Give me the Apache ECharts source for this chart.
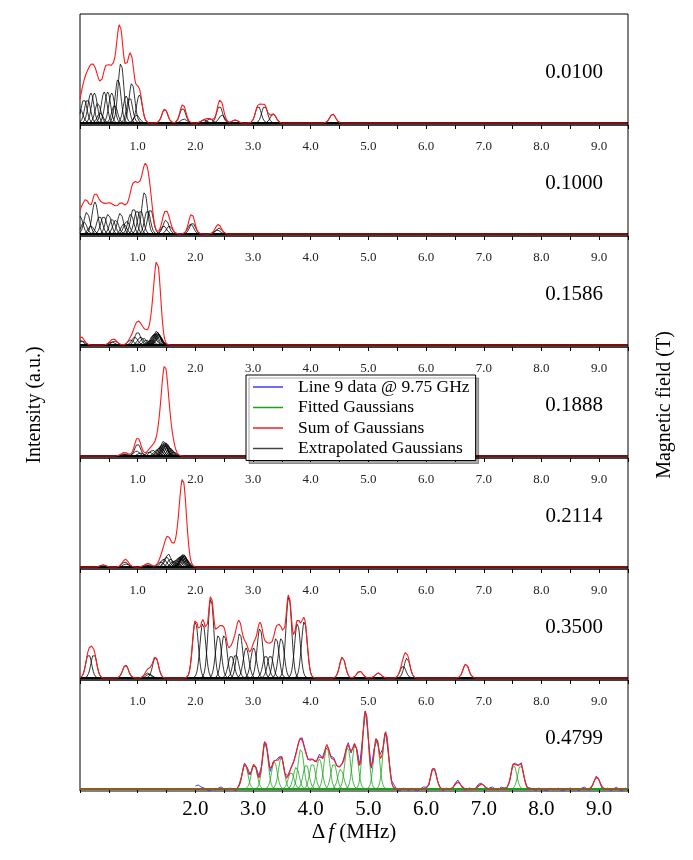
<!DOCTYPE html>
<html><head><meta charset="utf-8">
<script src="https://cdn.jsdelivr.net/npm/echarts@6/dist/echarts.min.js"></script>
<style>html,body{margin:0;padding:0;background:#fff}#c{width:693px;height:860px}</style>
</head><body><div id="c"></div><script>
// ---------- data ----------
const fieldLabels = ['0.0100','0.1000','0.1586','0.1888','0.2114','0.3500','0.4799'];
const topTickLabels = [1,2,3,4,5,6,7,8,9];
const bottomTickLabels = [2,3,4,5,6,7,8,9];
const legendNames = ['Line 9 data @ 9.75 GHz','Fitted Gaussians','Sum of Gaussians','Extrapolated Gaussians'];
// Gaussian widths (sigma, MHz) per panel
const widths = [0.05,0.05,0.05,0.05,0.05,0.05,0.05];
// [centre MHz, height] of each Gaussian, per panel
const peaks0100 = [[0.00,14],[0.07,24],[0.13,24],[0.19,30],[0.25,30],[0.31,20],[0.35,10],[0.42,31],[0.48,31],[0.55,30],[0.60,18],[0.66,44],[0.71,60],[0.80,27],[0.86,26],[0.90,40],[0.98,8],[1.03,28],
  [1.47,14],[1.78,15],[1.80,4],[2.15,3],[2.25,4],[2.42,17],[2.46,8],[2.69,3],[3.09,17],[3.20,17],[3.35,9],[4.38,9]];
const peaks1000 = [[0.00,18],[0.07,12],[0.12,22],[0.19,8],[0.26,32],[0.34,18],[0.41,18],[0.49,20],[0.56,15],[0.62,14],[0.70,21],[0.76,10],[0.81,13],[0.88,20],[0.93,26],[0.99,24],[1.05,24],[1.12,42],[1.17,24],[1.22,25],
  [1.45,8],[1.49,14],[1.55,8],[1.92,10],[1.95,11],[2.38,4],[2.41,6]];
const peaks1586 = [[0.00,5],[0.04,4],[0.55,3],[0.60,4],[0.88,5],[0.95,8],[1.00,13],[1.05,8],[1.10,7],[1.15,5],[1.20,4],[1.24,5],[1.27,10],[1.29,11],[1.31,12],[1.33,14],[1.34,13],[1.35,12],[1.36,11],[1.37,10],[1.38,9]];
const peaks1888 = [[0.75,2],[0.80,2],[0.98,5],[1.00,12],[1.05,3],[1.20,4],[1.26,6],[1.33,6],[1.37,8],[1.40,10],[1.43,12],[1.45,15],[1.46,12],[1.47,14],[1.48,10],[1.49,13],[1.51,12],[1.53,10],[1.56,8],[1.59,6],[1.62,4]];
const peaks2114 = [[0.40,2],[0.78,5],[0.80,3],[1.15,2],[1.20,2],[1.40,5],[1.45,8],[1.50,10],[1.53,13],[1.57,8],[1.62,6],[1.66,7],[1.70,9],[1.73,10],[1.75,11],[1.76,8],[1.77,12],[1.78,10],[1.79,13],[1.80,12],[1.81,11],[1.83,9],[1.85,7]];
const peaks3500 = [[0.15,24],[0.24,24],[0.79,13],[1.17,5],[1.20,4],[1.31,21],[2.00,57],[2.13,55],[2.27,80],[2.40,43],[2.50,43],[2.62,23],[2.70,24],[2.77,45],[2.88,30],[3.01,30],[3.12,50],[3.22,23],[3.30,23],[3.40,40],[3.49,40],[3.62,82],[3.77,55],[3.89,57],
  [4.55,21],[4.85,7],[5.17,5],[5.60,12],[5.67,20],[6.69,14]];
const peaks4799 = [[2.86,25],[3.02,25],[3.21,48],[3.37,27],[3.49,31],[3.66,17],[3.75,22],[3.83,40],[3.92,25],[4.03,26],[4.15,30],[4.28,42],[4.40,26],[4.52,20],[4.64,42],[4.77,44],[4.95,79],[5.14,51],[5.30,57],
  [6.13,21],[6.55,7],[6.96,5],[7.52,24],[7.64,24],[8.96,12]];
// measured line-9 data: deviation from the fit, sampled every 0.05 MHz from 2.00 to 9.50
const dataStart = 2.0, dataStep = 0.05;
const dataResidual = [
 3,4,2,1,-1,-2,0,-1,1,2,
 0,-1,1,0,-2,1,0,1,2,0,
 -1,1,2,-1,0,1,-2,1,0,2,
 1,-1,2,0,-1,1,0,2,1,-1,
 1,0,-1,2,1,0,-1,1,2,0,
 -1,1,0,2,-1,0,2,1,3,-1,
 1,0,3,-2,2,1,0,-2,1,3,
 -1,-2,1,0,-2,1,-1,-2,0,2,
 1,-2,2,1,0,-1,-2,1,0,-1,
 1,2,0,-2,-1,1,0,-1,2,1,
 0,-2,1,2,0,-1,2,1,0,-1,
 2,1,-1,2,0,-1,1,0,-2,1,
 0,-1,-2,1,-1,0,1,-2,-1,0,
 1,-1,0,-2,1,2,-1,-2,0,1,
 0,-2,-1,1,-2,0,2,-1,-2,1,
 0];
const panels = [peaks0100,peaks1000,peaks1586,peaks1888,peaks2114,peaks3500,peaks4799];

// ---------- layout ----------
const X0 = 80, W = 548, H = 111;
const tops = [14,125,236,347,458,569,680];
const FONT = 'Liberation Serif';
const BLUE = '#3b3bff', GREEN = '#1aa31a', RED = '#ff1a1a', BLACK = '#000';

const xs = [];
for (let k = 0; k <= 950; k++) xs.push(k / 100);
function g(x, c, h, s) { return h * Math.exp(-(x - c) * (x - c) / (2 * s * s)); }
function gsum(pk, s, x) { let y = 0; for (const [c, h] of pk) y += g(x, c, h, s); return y; }
const isInt = v => Math.abs(v - Math.round(v)) < 1e-6;

const grid = [], xAxis = [], yAxis = [], series = [];
tops.forEach((t, i) => {
  grid.push({left: X0, top: t, width: W, height: H, show: true, borderColor: '#000', borderWidth: 1, backgroundColor: 'transparent'});
  yAxis.push({type: 'value', gridIndex: i, min: -2, max: 109, show: false});
  const bIdx = xAxis.length;
  xAxis.push({type: 'value', gridIndex: i, min: 0, max: 9.5, interval: 0.5, position: 'bottom',
    axisLine: {show: false}, splitLine: {show: false},
    axisTick: {show: i === 6, inside: false, length: 4, lineStyle: {color: '#000'}},
    axisLabel: {show: i === 6, margin: 8, fontFamily: FONT, fontSize: 21, color: '#000',
      formatter: v => (isInt(v) && bottomTickLabels.includes(Math.round(v))) ? v.toFixed(1) : ''}});
  if (i > 0) {
    xAxis.push({type: 'value', gridIndex: i, min: 0, max: 9.5, interval: 0.5, position: 'top',
      axisLine: {show: false}, splitLine: {show: false},
      axisTick: {show: true, inside: true, length: 4, lineStyle: {color: '#000'}},
      axisLabel: {show: true, inside: true, margin: 15, fontFamily: FONT, fontSize: 13, color: '#222',
        formatter: v => (isInt(v) && topTickLabels.includes(Math.round(v))) ? v.toFixed(1) : ''}});
  }
  const pk = panels[i], s = widths[i];
  const comp = (i === 6) ? legendNames[1] : legendNames[3];
  const compColor = (i === 6) ? GREEN : BLACK;
  if (i === 6) {
    const d = dataResidual.map((r, k) => { const x = dataStart + k * dataStep; return [x, gsum(pk, s, x) + r]; });
    series.push({type: 'line', name: legendNames[0], xAxisIndex: bIdx, yAxisIndex: i, data: d, showSymbol: false, symbol: 'none',
      lineStyle: {color: BLUE, width: 1}, itemStyle: {color: BLUE}, silent: true, z: 2});
  }
  pk.forEach(([c, h]) => {
    series.push({type: 'line', name: comp, xAxisIndex: bIdx, yAxisIndex: i, data: xs.map(x => [x, g(x, c, h, s)]),
      showSymbol: false, symbol: 'none', lineStyle: {color: compColor, width: 0.8}, itemStyle: {color: compColor}, silent: true, z: 3});
  });
  series.push({type: 'line', name: legendNames[2], xAxisIndex: bIdx, yAxisIndex: i, data: xs.map(x => [x, gsum(pk, s, x)]),
    showSymbol: false, symbol: 'none', lineStyle: {color: RED, width: 1.1}, itemStyle: {color: RED}, silent: true, z: 4});
});

const graphic = fieldLabels.map((t, i) => ({type: 'text', x: 574, y: tops[i] + 58, silent: true,
  style: {text: t, fill: '#000', font: '21px "Liberation Serif"', align: 'center', verticalAlign: 'middle'}}));
graphic.push({type: 'text', x: 35, y: 405, rotation: Math.PI / 2, silent: true,
  style: {text: 'Intensity (a.u.)', fill: '#000', font: '20px "Liberation Serif"', align: 'center', verticalAlign: 'middle'}});
graphic.push({type: 'text', x: 665, y: 405, rotation: Math.PI / 2, silent: true,
  style: {text: 'Magnetic field (T)', fill: '#000', font: '20px "Liberation Serif"', align: 'center', verticalAlign: 'middle'}});
graphic.push({type: 'text', x: 354, y: 832, silent: true,
  style: {text: '{a|Δ}{b|f}{a| (MHz)}', fill: '#000', align: 'center', verticalAlign: 'middle',
    rich: {a: {fontFamily: FONT, fontSize: 21, fill: '#000'}, b: {fontFamily: FONT, fontSize: 21, fontStyle: 'italic', fill: '#000', padding: [0, 0, 0, 3]}}}});

const chart = echarts.init(document.getElementById('c'), null, {renderer: 'canvas'});
chart.setOption({
  animation: false,
  backgroundColor: '#fff',
  grid, xAxis, yAxis, series, graphic,
  legend: {left: 246, top: 375, orient: 'vertical', selectedMode: false, z: 20,
    data: [
      {name: legendNames[0], itemStyle: {color: BLUE}},
      {name: legendNames[1], itemStyle: {color: GREEN}},
      {name: legendNames[2], itemStyle: {color: RED}},
      {name: legendNames[3], itemStyle: {color: '#444'}}],
    icon: 'rect', itemWidth: 30, itemHeight: 1.5, itemGap: 2.5, padding: [3, 6, 3, 7],
    backgroundColor: '#fff', borderColor: '#000', borderWidth: 1,
    shadowColor: 'rgba(0,0,0,0.35)', shadowOffsetX: 3, shadowOffsetY: 3, shadowBlur: 0,
    textStyle: {fontFamily: FONT, fontSize: 17.5, color: '#000', padding: [0, 0, 0, 10]}}
});
</script></body></html>
